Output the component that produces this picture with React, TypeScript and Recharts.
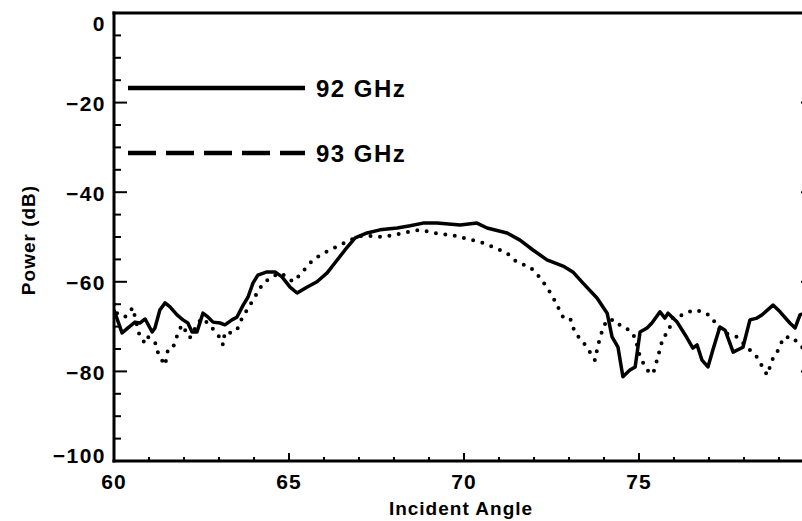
import React from 'react';
import { LineChart, Line, XAxis, YAxis, Legend } from 'recharts';

// incident angle (deg) / power (dB)
const angles92 = [
  60.0, 60.23, 60.4, 60.6, 60.74, 60.89, 61.09, 61.17, 61.31, 61.46, 61.6, 61.8, 61.97, 62.11, 62.23,
  62.37, 62.46, 62.54, 62.69, 62.83, 63.03, 63.17, 63.37, 63.51, 63.69, 63.83, 63.97, 64.11, 64.37,
  64.6, 64.8, 65.03, 65.23, 65.51, 65.8, 66.09, 66.31, 66.6, 66.89, 67.23, 67.6, 68.09, 68.46, 68.83,
  69.23, 69.89, 70.37, 70.66, 71.23, 71.6, 71.97, 72.37, 72.83, 73.11, 73.4, 73.8, 74.09, 74.23, 74.4,
  74.54, 74.74, 74.89, 75.03, 75.23, 75.37, 75.6, 75.74, 75.83, 76.09, 76.37, 76.54, 76.66, 76.8,
  76.97, 77.11, 77.31, 77.46, 77.69, 77.97, 78.17, 78.37, 78.51, 78.83, 79.03, 79.31, 79.46, 79.6, 80.0,
];
const power92 = [
  -66.3, -71.4, -70.3, -69.0, -69.2, -68.3, -71.2, -70.3, -66.3, -64.7, -65.6, -67.4, -68.5, -69.2, -71.2,
  -71.2, -69.0, -67.0, -67.9, -69.0, -69.2, -69.6, -68.5, -67.9, -65.2, -63.4, -60.3, -58.5, -57.8,
  -57.8, -58.9, -61.2, -62.5, -61.2, -60.0, -58.0, -55.8, -52.9, -50.2, -49.1, -48.4, -48.0, -47.5, -46.9,
  -46.9, -47.3, -46.9, -48.0, -49.1, -50.7, -52.9, -55.1, -56.5, -57.8, -60.3, -63.6, -67.0, -72.3, -74.6,
  -81.2, -79.7, -79.0, -71.2, -70.3, -69.2, -66.7, -68.1, -67.0, -69.0, -72.5, -74.8, -74.1, -77.5,
  -79.0, -75.2, -70.1, -70.8, -75.7, -74.6, -68.5, -68.1, -67.4, -65.2, -66.7, -69.2, -70.3, -67.4, -66.0,
];

const angles93 = [
  60.0, 60.09, 60.31, 60.54, 60.6, 60.74, 60.89, 60.97, 61.17, 61.26, 61.37, 61.46, 61.54, 61.69, 61.83,
  61.94, 62.17, 62.37, 62.51, 62.74, 62.89, 63.09, 63.11, 63.17, 63.37, 63.51, 63.66, 63.8, 63.94, 64.09,
  64.26, 64.51, 64.74, 64.94, 65.11, 65.31, 65.6, 65.89, 66.17, 66.46, 66.74, 67.03, 67.37, 67.69, 67.97,
  68.37, 68.74, 69.03, 69.31, 69.69, 69.97, 70.46, 70.83, 71.23, 71.51, 71.89, 72.11, 72.37, 72.54, 72.83,
  73.03, 73.17, 73.4, 73.6, 73.74, 73.83, 73.97, 74.09, 74.31, 74.51, 74.74, 74.89, 75.03, 75.23, 75.4,
  75.54, 75.69, 75.83, 75.97, 76.26, 76.54, 76.83, 77.09, 77.23, 77.46, 77.8, 78.09, 78.37, 78.66, 78.83,
  79.03, 79.11, 79.37, 79.66, 80.0,
];
const power93 = [
  -65.0, -67.0, -67.9, -65.8, -67.9, -72.3, -73.7, -72.3, -73.4, -75.9, -77.5, -78.6, -75.2, -74.6, -71.4,
  -69.6, -72.5, -69.6, -68.1, -69.6, -71.2, -73.0, -74.1, -71.2, -71.4, -70.8, -68.1, -66.3, -64.5, -62.5,
  -60.3, -58.9, -58.0, -58.9, -60.0, -58.5, -55.8, -54.0, -52.9, -51.8, -50.7, -49.8, -49.8, -50.0, -49.6,
  -48.9, -48.4, -48.9, -49.3, -49.6, -50.2, -51.1, -52.2, -53.6, -55.6, -56.7, -58.5, -61.2, -63.4, -67.9,
  -68.1, -71.4, -73.4, -75.7, -77.5, -74.1, -70.3, -68.5, -68.5, -70.1, -70.8, -72.5, -76.8, -79.7, -80.6,
  -76.8, -72.3, -71.4, -67.9, -67.4, -66.3, -66.7, -67.9, -70.1, -71.4, -72.3, -74.6, -76.8, -80.8, -77.0,
  -74.6, -72.5, -72.3, -74.6, -75.0,
];

const xTicks = [60, 61, 62, 63, 64, 65, 66, 67, 68, 69, 70, 71, 72, 73, 74, 75, 76, 77, 78, 79, 80];
const xMajor = [60, 65, 70, 75, 80];
const xLabels = [60, 65, 70, 75]; // 80 falls off the right edge of the picture
const yTicks = [-100, -95, -90, -85, -80, -75, -70, -65, -60, -55, -50, -45, -40, -35, -30, -25, -20, -15, -10, -5, 0];
const yLabels = [-100, -80, -60, -40, -20, 0];

const series92 = angles92.map((a, i) => ({ angle: a, power: power92[i] }));
const series93 = angles93.map((a, i) => ({ angle: a, power: power93[i] }));

const FONT = '"Liberation Sans", Arial, sans-serif';
const axisLine = { stroke: '#000', strokeWidth: 3, strokeLinecap: 'square' as const };

const fmt = (v: number) => (v < 0 ? `\u2212${-v}` : `${v}`);

function BottomTick({ x, y, payload }: any) {
  const major = xMajor.includes(payload.value);
  return (
    <g>
      <line x1={x} x2={x} y1={y} y2={y - (major ? 8 : 4)} stroke="#000" strokeWidth={2} />
      {xLabels.includes(payload.value) && (
        <text x={x} y={y + 28} textAnchor="middle" fontFamily={FONT} fontWeight="bold" fontSize={21} letterSpacing={1} fill="#000">
          {payload.value}
        </text>
      )}
    </g>
  );
}

function TopTick({ x, y, payload }: any) {
  const major = xMajor.includes(payload.value);
  return <line x1={x} x2={x} y1={y} y2={y + (major ? 9 : 4)} stroke="#000" strokeWidth={2} />;
}

function LeftTick({ x, y, payload }: any) {
  const v = payload.value;
  const major = yLabels.includes(v);
  const shift = v === 0 ? 10 : v === -100 ? -6 : 1;
  return (
    <g>
      <line x1={x} x2={x + (major ? 13 : 7)} y1={y} y2={y} stroke="#000" strokeWidth={2} />
      {major && (
        <text x={x - 8} y={y + 7.5 + shift} textAnchor="end" fontFamily={FONT} fontWeight="bold" fontSize={21} letterSpacing={1.5} fill="#000">
          {fmt(v)}
        </text>
      )}
    </g>
  );
}

function RightTick({ x, y, payload }: any) {
  const major = yLabels.includes(payload.value);
  return <line x1={x} x2={x - (major ? 13 : 7)} y1={y} y2={y} stroke="#000" strokeWidth={2} />;
}

const legendStyles = [
  { dash: undefined, y: 88 },
  { dash: '28 10', y: 153 },
];

function LegendBox({ payload }: any) {
  return (
    <svg width={430} height={180}>
      {(payload || []).map((entry: any, i: number) => {
        const s = legendStyles[i];
        return (
          <g key={entry.value}>
            <line x1={128} x2={305} y1={s.y} y2={s.y} stroke="#000" strokeWidth={4.5} strokeDasharray={s.dash} />
            <text x={316} y={s.y + 8.5} fontFamily={FONT} fontWeight="bold" fontSize={24} letterSpacing={1.5} fill="#000">
              {entry.value}
            </text>
          </g>
        );
      })}
    </svg>
  );
}

export default function App() {
  return (
    <div style={{ position: 'absolute', left: 0, top: 0, width: 802, height: 521, overflow: 'hidden', background: '#fff' }}>
      <LineChart width={830} height={521} margin={{ top: 12, right: 15, bottom: 59, left: 113 }}>
        <XAxis
          xAxisId="bottom"
          dataKey="angle"
          type="number"
          domain={[60, 80]}
          allowDataOverflow
          ticks={xTicks}
          interval={0}
          height={1}
          tickSize={0}
          tickMargin={0}
          tickLine={false}
          axisLine={axisLine}
          tick={(p: any) => <BottomTick {...p} />}
          label={{
            content: ({ viewBox }: any) => (
              <text x={viewBox.x + viewBox.width / 2 - 3} y={viewBox.y + 54} textAnchor="middle" fontFamily={FONT} fontWeight="bold" fontSize={19} letterSpacing={1} fill="#000">
                Incident Angle
              </text>
            ),
          }}
        />
        <XAxis
          xAxisId="top"
          orientation="top"
          type="number"
          domain={[60, 80]}
          allowDataOverflow
          ticks={xTicks}
          interval={0}
          height={1}
          tickSize={0}
          tickMargin={0}
          tickLine={false}
          axisLine={axisLine}
          tick={(p: any) => <TopTick {...p} />}
        />
        <YAxis
          yAxisId="left"
          type="number"
          domain={[-100, 0]}
          allowDataOverflow
          ticks={yTicks}
          interval={0}
          width={1}
          tickSize={0}
          tickMargin={0}
          tickLine={false}
          axisLine={axisLine}
          tick={(p: any) => <LeftTick {...p} />}
          label={{
            content: ({ viewBox }: any) => {
              const cy = viewBox.y + viewBox.height / 2 + 3;
              return (
                <text x={28} y={cy} transform={`rotate(-90 28 ${cy})`} textAnchor="middle" dominantBaseline="central" fontFamily={FONT} fontWeight="bold" fontSize={19} letterSpacing={1} fill="#000">
                  Power (dB)
                </text>
              );
            },
          }}
        />
        <YAxis
          yAxisId="right"
          orientation="right"
          type="number"
          domain={[-100, 0]}
          allowDataOverflow
          ticks={yTicks}
          interval={0}
          width={1}
          tickSize={0}
          tickMargin={0}
          tickLine={false}
          axisLine={axisLine}
          tick={(p: any) => <RightTick {...p} />}
        />
        <Legend
          layout="horizontal"
          verticalAlign="middle"
          align="center"
          content={(p: any) => <LegendBox {...p} />}
          wrapperStyle={{ left: 0, top: 0, width: 430, height: 180 }}
        />
        <Line
          xAxisId="bottom"
          yAxisId="left"
          data={series92}
          dataKey="power"
          name="92 GHz"
          type="linear"
          stroke="#000"
          strokeWidth={3.5}
          strokeLinejoin="round"
          dot={false}
          isAnimationActive={false}
        />
        <Line
          xAxisId="bottom"
          yAxisId="left"
          data={series93}
          dataKey="power"
          name="93 GHz"
          type="linear"
          stroke="#000"
          strokeWidth={4}
          strokeDasharray="0 9.5"
          strokeLinecap="round"
          dot={false}
          isAnimationActive={false}
        />
      </LineChart>
    </div>
  );
}
